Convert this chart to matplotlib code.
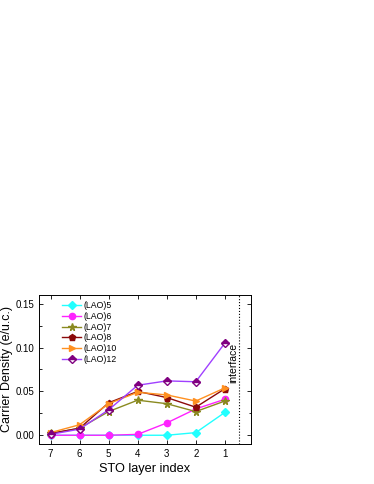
import matplotlib
matplotlib.use("Agg")
import matplotlib.pyplot as plt
from matplotlib.ticker import MultipleLocator

plt.rcParams['font.family'] = ['Liberation Sans', 'DejaVu Sans']

layers = [7, 6, 5, 4, 3, 2, 1]
lao5 = [0.0, 0.0, 0.0, 0.0, 0.0, 0.003, 0.026]
lao6 = [0.0, 0.0, 0.0, 0.001, 0.014, 0.030, 0.041]
lao7 = [0.002, 0.008, 0.027, 0.040, 0.036, 0.027, 0.039]
lao8 = [0.002, 0.008, 0.037, 0.050, 0.043, 0.032, 0.053]
lao10 = [0.003, 0.012, 0.036, 0.049, 0.046, 0.039, 0.054]
lao12 = [0.001, 0.007, 0.029, 0.057, 0.062, 0.061, 0.105]
labels = ['(LAO)5', '(LAO)6', '(LAO)7', '(LAO)8', '(LAO)10', '(LAO)12']

fig = plt.figure(figsize=(3.74, 4.84), dpi=100)
ax = fig.add_axes([0.104, 0.0826, 0.567, 0.308])

lw = 1.0
ms = 4.5
ax.plot(layers, lao5, color='#22ffff', marker='D', ms=3.8, lw=lw, label=labels[0])
ax.plot(layers, lao6, color='#ff22ff', marker='o', ms=ms, lw=lw, label=labels[1])
ax.plot(layers, lao7, color='#8a8a20', marker='*', ms=5.5, lw=lw, label=labels[2])
ax.plot(layers, lao8, color='#8b0a0a', marker='p', ms=ms, lw=lw, label=labels[3])
ax.plot(layers, lao10, color='#ff9020', marker='>', ms=ms, lw=lw, label=labels[4])
ax.plot(layers, lao12, color='#a040ff', marker='D', ms=3.8, lw=lw, label=labels[5],
        fillstyle='top', markerfacecolor='#800080', markerfacecoloralt='white',
        markeredgecolor='#800080')

ax.axvline(0.5, color='black', ls=':', lw=0.8)
ax.text(0.72, 0.083, 'interface', rotation=90, fontsize=7.5, ha='center', va='center')

ax.set_xlim(7.4, 0.1)
ax.set_ylim(-0.01, 0.16)
ax.xaxis.set_major_locator(MultipleLocator(1))
ax.yaxis.set_major_locator(MultipleLocator(0.05))
ax.yaxis.set_minor_locator(MultipleLocator(0.025))
ax.yaxis.set_major_formatter(matplotlib.ticker.FormatStrFormatter('%.2f'))
ax.tick_params(which='both', direction='in', top=True, right=True, labelsize=7, width=0.6)
ax.tick_params(which='major', length=3)
ax.tick_params(which='minor', length=1.8)
for s in ax.spines.values():
    s.set_linewidth(0.7)

ax.set_xlabel('STO layer index', fontsize=9.2, labelpad=3)
ax.set_ylabel('Carrier Density (e/u.c.)', fontsize=9, labelpad=2)

ax.legend(loc='upper left', frameon=False, fontsize=6.3, handlelength=2.2,
          handletextpad=0.3, labelspacing=0.2, borderaxespad=0.3,
          bbox_to_anchor=(0.08, 1.0))

fig.savefig('out.png', dpi=100)
